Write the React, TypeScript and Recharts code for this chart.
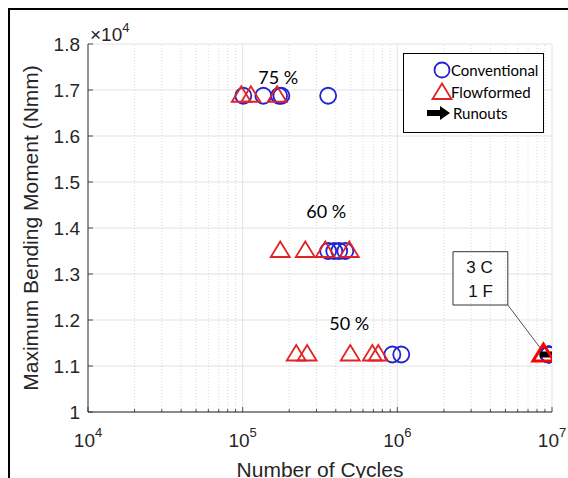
import React from 'react';
import {
  ScatterChart, Scatter, XAxis, YAxis, CartesianGrid, ReferenceLine, ReferenceArea, Legend, Label,
} from 'recharts';

// ---------- data ----------
const LOAD_75 = 16875;
const LOAD_60 = 13500;
const LOAD_50 = 11250;

const conventionalCycles75 = [1.01e5, 1.36e5, 1.72e5, 1.78e5, 3.57e5];
const conventionalCycles60 = [3.57e5, 3.91e5, 4.21e5, 4.61e5];
const conventionalCycles50 = [9.29e5, 1.06e6];
const conventionalRunoutCycles = [9.5e6, 9.5e6, 9.5e6];

const flowformedCycles75 = [0.98e5, 1.13e5, 1.67e5];
const flowformedCycles60 = [1.75e5, 2.54e5, 3.42e5, 4.89e5];
const flowformedCycles50 = [2.22e5, 2.61e5, 4.96e5, 6.89e5, 7.53e5];
const flowformedRunoutCycles = [8.8e6];

const runoutArrowCycles = [9.5e6];

const percentLabels = [
  { x: 1.7e5, y: 17293, text: '75 %' },
  { x: 3.47e5, y: 14359, text: '60 %' },
  { x: 4.89e5, y: 11935, text: '50 %' },
];
const boxLabels = [
  { x: 3.4e6, y: 13141, text: '3 C' },
  { x: 3.45e6, y: 12615, text: '1 F' },
];
const boxArea = { x1: 2.29e6, x2: 5.18e6, y1: 12326, y2: 13485 };
const leader = [{ x: 5.18e6, y: 12326 }, { x: 8.69e6, y: 11326 }];

const xMajorTicks = [1e4, 1e5, 1e6, 1e7];
const xMinorTicks = [1e4, 1e5, 1e6].flatMap((d) => [2, 3, 4, 5, 6, 7, 8, 9].map((m) => m * d));
const xAllTicks = [...xMajorTicks, ...xMinorTicks].sort((a, b) => a - b);
const yTicks = [10000, 11000, 12000, 13000, 14000, 15000, 16000, 17000, 18000];

const toPoints = (cycles: number[], load: number) => cycles.map((x) => ({ x, y: load }));

const conventionalData = [
  ...toPoints(conventionalCycles75, LOAD_75),
  ...toPoints(conventionalCycles60, LOAD_60),
  ...toPoints(conventionalCycles50, LOAD_50),
  ...toPoints(conventionalRunoutCycles, LOAD_50),
];
const flowformedData = [
  ...toPoints(flowformedCycles75, LOAD_75),
  ...toPoints(flowformedCycles60, LOAD_60),
  ...toPoints(flowformedCycles50, LOAD_50),
];
const flowformedRunoutData = toPoints(flowformedRunoutCycles, LOAD_50);
const runoutData = toPoints(runoutArrowCycles, LOAD_50);

// ---------- styles ----------
const AXIS_FONT = "'Liberation Sans', Arial, Helvetica, sans-serif";
const NOTE_FONT = "Lato, 'Open Sans', sans-serif";
const AXIS_COLOR = '#262626';
const BLUE = '#2323d2';
const RED = '#e02424';

const CircleShape = (p: any) => (
  <circle cx={p.cx} cy={p.cy} r={8} fill="none" stroke={BLUE} strokeWidth={1.8} />
);
const triPoints = (cx: number, cy: number, s: number) =>
  `${cx},${cy - s} ${cx - s},${cy + s * 0.63} ${cx + s},${cy + s * 0.63}`;
const TriangleShape = (p: any) => (
  <polygon points={triPoints(p.cx, p.cy, 9.5)} fill="none" stroke={RED} strokeWidth={1.8} strokeLinejoin="miter" />
);
const RunoutTriangleShape = (p: any) => (
  <polygon points={triPoints(p.cx, p.cy, 10.5)} fill="none" stroke="#ff0000" strokeWidth={3} />
);
const arrowPoints = (x0: number, cy: number) =>
  `${x0},${cy - 3} ${x0 + 13},${cy - 3} ${x0 + 13},${cy - 7} ${x0 + 23},${cy} ${x0 + 13},${cy + 7} ${x0 + 13},${cy + 3} ${x0},${cy + 3}`;
const ArrowShape = (p: any) => <polygon points={arrowPoints(p.cx - 9, p.cy)} fill="#000" />;

const PercentText = (p: any) => (
  <text x={p.cx} y={p.cy} textAnchor="middle" dominantBaseline="central" fontFamily={NOTE_FONT} fontSize={18} fill="#000">
    {p.payload.text}
  </text>
);
const BoxText = (p: any) => (
  <text x={p.cx} y={p.cy} textAnchor="middle" dominantBaseline="central" fontFamily={AXIS_FONT} fontSize={17} fill="#111">
    {p.payload.text}
  </text>
);

const isMajor = (v: number) => Math.abs(Math.log10(v) - Math.round(Math.log10(v))) < 1e-9;

const XTick = (p: any) => {
  const v = p.payload.value;
  const major = isMajor(v);
  return (
    <g>
      <line x1={p.x} x2={p.x} y1={p.y} y2={p.y - (major ? 5 : 3)} stroke={AXIS_COLOR} strokeWidth={0.8} />
      {major && (
        <text x={p.x} y={p.y + 35} textAnchor="middle" fontFamily={AXIS_FONT} fontSize={19} fill={AXIS_COLOR}>
          <tspan>10</tspan>
          <tspan dy={-10} fontSize={13}>{Math.round(Math.log10(v))}</tspan>
        </text>
      )}
    </g>
  );
};

const YTick = (p: any) => (
  <g>
    <line x1={p.x + 8} x2={p.x + 13} y1={p.y} y2={p.y} stroke={AXIS_COLOR} strokeWidth={0.8} />
    <text x={p.x} y={p.y} dy="0.355em" textAnchor="end" fontFamily={AXIS_FONT} fontSize={19} fill={AXIS_COLOR}>
      {String(p.payload.value / 10000)}
    </text>
  </g>
);

const ExponentLabel = (p: any) => {
  const vb = p.viewBox || { x: 0, y: 0, width: 0 };
  return (
    <text x={vb.x + vb.width + 2} y={vb.y - 3} fontFamily={AXIS_FONT} fontSize={19} fill={AXIS_COLOR}>
      <tspan fontSize={19}>×</tspan>
      <tspan>10</tspan>
      <tspan dy={-9} fontSize={13}>4</tspan>
    </text>
  );
};

const LegendBox = () => (
  <div style={{ width: 141, height: 80, boxSizing: 'border-box', border: '1px solid #000', background: '#fff' }}>
    <svg width={139} height={78} style={{ display: 'block' }}>
      <circle cx={38} cy={16} r={7.5} fill="none" stroke={BLUE} strokeWidth={1.8} />
      <text x={47} y={16} dominantBaseline="central" fontFamily={NOTE_FONT} fontSize={15} fill="#000">Conventional</text>
      <polygon points={triPoints(38, 39, 9.5)} fill="none" stroke={RED} strokeWidth={1.8} />
      <text x={47} y={38} dominantBaseline="central" fontFamily={NOTE_FONT} fontSize={15} fill="#000">Flowformed</text>
      <polygon points={arrowPoints(23, 59)} fill="#000" />
      <text x={49} y={59} dominantBaseline="central" fontFamily={NOTE_FONT} fontSize={15} fill="#000">Runouts</text>
    </svg>
  </div>
);

export default function App() {
  return (
    <div
      style={{
        position: 'fixed', left: 8, top: 8, width: 560, height: 470, overflow: 'hidden',
        borderTop: '2px solid #000', borderLeft: '2px solid #000', background: '#fff',
      }}
    >
      <ScatterChart width={558} height={468} margin={{ top: 34, right: 16, bottom: 0, left: 0 }}>
        <CartesianGrid horizontal vertical={false} stroke="#e2e2e2" strokeWidth={1} />
        {xMinorTicks.map((v) => (
          <ReferenceLine key={'mn' + v} x={v} stroke="#cfcfcf" strokeWidth={0.8} strokeDasharray="1 2" />
        ))}
        {xMajorTicks.slice(1).map((v) => (
          <ReferenceLine key={'mj' + v} x={v} stroke="#e2e2e2" strokeWidth={1} />
        ))}
        <XAxis
          dataKey="x" type="number" scale="log" domain={[1e4, 1e7]} ticks={xAllTicks} interval={0}
          allowDataOverflow height={66} tickSize={0} tickMargin={0} tick={<XTick />} tickLine={false}
          axisLine={{ stroke: AXIS_COLOR, strokeWidth: 1 }}
        >
          <Label value="Number of Cycles" position="insideBottom" offset={1} fontFamily={AXIS_FONT} fontSize={21} fill={AXIS_COLOR} />
        </XAxis>
        <YAxis
          dataKey="y" type="number" domain={[10000, 18000]} ticks={yTicks} interval={0} allowDataOverflow
          width={78} tickSize={0} tickMargin={8} tick={<YTick />} tickLine={false}
          axisLine={{ stroke: AXIS_COLOR, strokeWidth: 1 }}
        >
          <Label
            value="Maximum Bending Moment (Nmm)" angle={-90} position="insideLeft" offset={21}
            fontFamily={AXIS_FONT} fontSize={21} fill={AXIS_COLOR} style={{ textAnchor: 'middle' }}
          />
          <Label content={<ExponentLabel />} position="top" />
        </YAxis>
        <ReferenceArea {...boxArea} fill="#fff" fillOpacity={1} stroke="#333" strokeWidth={1} />
        <ReferenceLine segment={leader} stroke="#555" strokeWidth={1} />
        <Scatter name="Conventional" data={conventionalData} shape={<CircleShape />} isAnimationActive={false} />
        <Scatter name="Runouts" data={runoutData} shape={<ArrowShape />} isAnimationActive={false} />
        <Scatter name="Flowformed" data={flowformedData} shape={<TriangleShape />} isAnimationActive={false} />
        <Scatter name="FlowformedRunout" data={flowformedRunoutData} shape={<RunoutTriangleShape />} isAnimationActive={false} legendType="none" />
        <Scatter name="percent" data={percentLabels} shape={<PercentText />} isAnimationActive={false} legendType="none" />
        <Scatter name="box" data={boxLabels} shape={<BoxText />} isAnimationActive={false} legendType="none" />
        <Legend
          layout="vertical" align="center" verticalAlign="middle" content={<LegendBox />}
          wrapperStyle={{ left: 393, top: 43, width: 141, height: 80, margin: 0, padding: 0 }}
        />
      </ScatterChart>
    </div>
  );
}
